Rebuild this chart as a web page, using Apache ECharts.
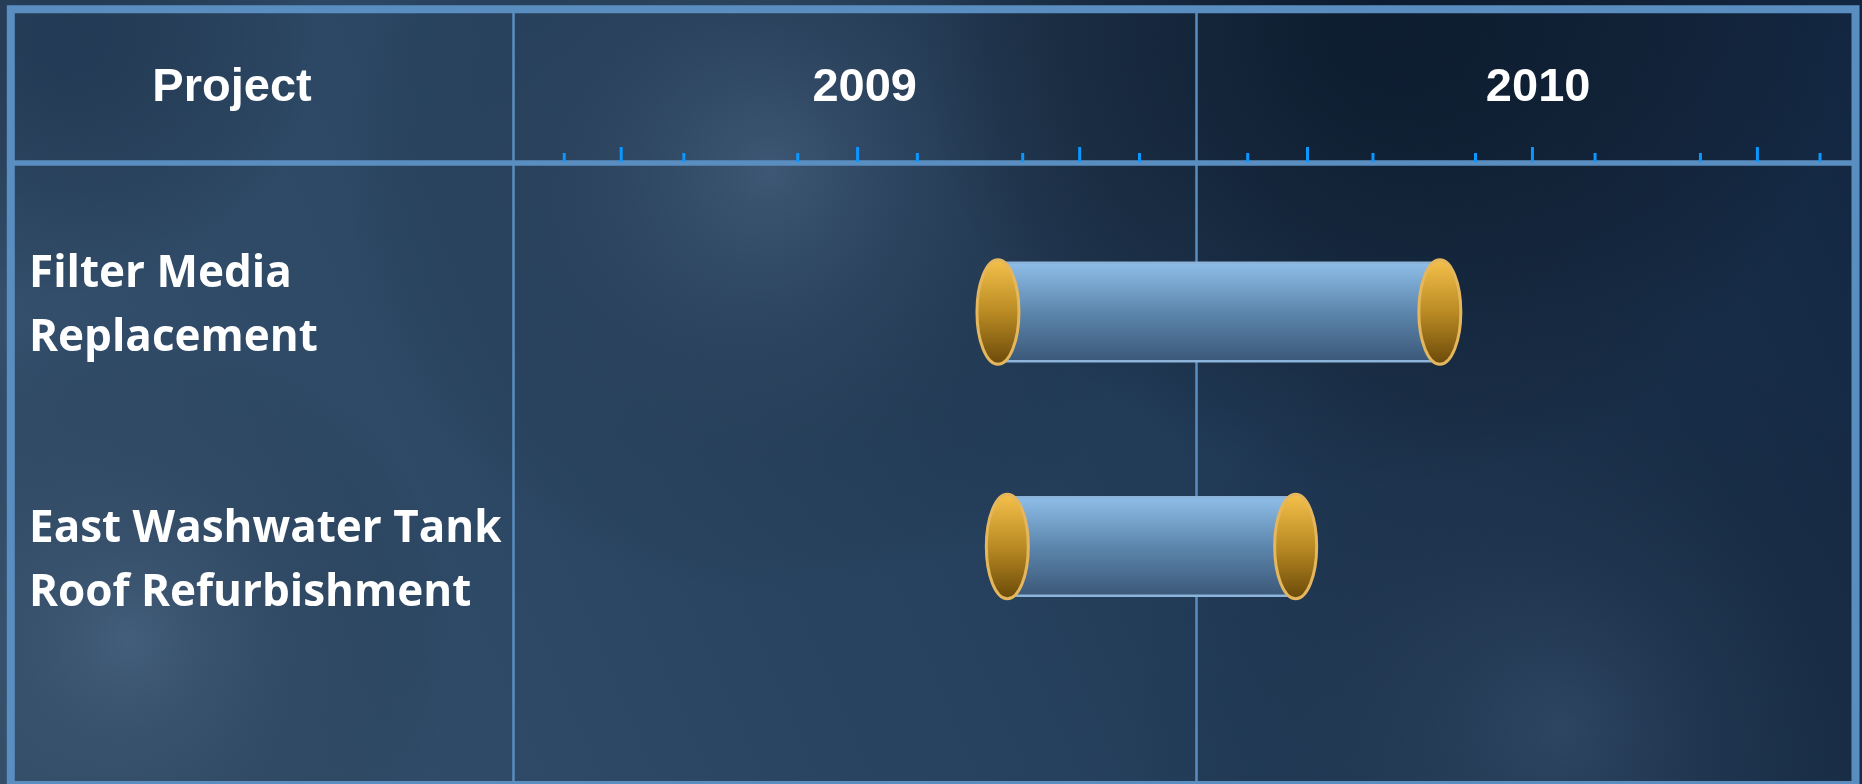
<!DOCTYPE html>
<html>
<head>
<meta charset="utf-8">
<title>Project schedule 2009-2010</title>
<script src="https://cdn.jsdelivr.net/npm/echarts@6/dist/echarts.min.js"></script>
<style>
html, body { margin: 0; padding: 0; background: #1d3553; }
#chart { width: 1862px; height: 784px; }
</style>
</head>
<body>
<div id="chart"></div>
<script>
// rows of the schedule
var projects = ['Filter Media\nReplacement', 'East Washwater Tank\nRoof Refurbishment'];
var startDates = ['2009-09-17', '2009-09-22'];
var endDates = ['2010-05-11', '2010-02-23'];

// time axis
var years = ['2009', '2010'];
var axisStart = '2009-01-01';
var axisEnd = '2010-12-19';

// small header ticks, months after axisStart (1 = long tick)
var tickMonths = [0.9, 1.9, 3.0, 5.0, 6.05, 7.1, 8.95, 9.95, 11.0, 12.9, 13.95, 15.1, 16.9, 17.9, 19.0, 20.85, 21.85, 22.95];
var tickLong = [0, 1, 0, 0, 1, 0, 0, 1, 0, 0, 1, 0, 0, 1, 0, 0, 1, 0];

var LINE = '#5a8ec0';
var myChart = echarts.init(document.getElementById('chart'));

function toYear(s) {
    var t = Date.parse(s + 'T00:00:00Z');
    var y = new Date(t).getUTCFullYear();
    var y0 = Date.UTC(y, 0, 1), y1 = Date.UTC(y + 1, 0, 1);
    return y + (t - y0) / (y1 - y0);
}
var yMin = toYear(axisStart);
var yMax = toYear(axisEnd);

function lg(stops) {
    return new echarts.graphic.LinearGradient(0, 0, 0, 1, stops.map(function (c) {
        return { offset: c[0], color: c[1] };
    }));
}
function glow(cx, cy, r, color) {
    return {
        type: 'circle', z: -10, silent: true,
        shape: { cx: cx, cy: cy, r: r },
        style: {
            fill: new echarts.graphic.RadialGradient(0.5, 0.5, 0.5, [
                { offset: 0, color: color },
                { offset: 1, color: 'rgba(0,0,0,0)' }
            ])
        }
    };
}
function gridBox(o) {
    o.outerBoundsMode = 'none';
    o.containLabel = false;
    return o;
}
function hiddenX(grid) {
    return { type: 'value', gridIndex: grid, min: yMin, max: yMax, show: false };
}
function hiddenY(grid) {
    return { type: 'value', gridIndex: grid, min: 0, max: 1, show: false };
}

var yearFont = { color: '#fff', fontFamily: 'Liberation Sans', fontWeight: 'bold', fontSize: 47 };

var option = {
    backgroundColor: new echarts.graphic.LinearGradient(0, 1, 1, 0, [
        { offset: 0, color: '#36526f' },
        { offset: 0.45, color: '#27425f' },
        { offset: 1, color: '#122640' }
    ]),
    graphic: [
        glow(770, 170, 430, 'rgba(95,120,150,0.40)'),
        glow(130, 640, 330, 'rgba(100,125,155,0.32)'),
        glow(1560, 730, 430, 'rgba(85,110,140,0.30)'),
        glow(1380, 30, 460, 'rgba(4,14,28,0.60)'),
        glow(60, 40, 260, 'rgba(10,25,50,0.35)')
    ],
    title: {
        text: 'Project',
        left: 232, top: 88,
        padding: 0,
        textAlign: 'center',
        textVerticalAlign: 'middle',
        textStyle: yearFont
    },
    grid: [
        // outer frame
        gridBox({ left: 10.8, top: 9.2, right: 6.5, bottom: -1, show: true, borderColor: LINE, borderWidth: 8 }),
        // header band (its bottom edge is the header line)
        gridBox({ left: 10.8, top: 9.2, right: 6.5, height: 153.8, show: true, borderColor: LINE, borderWidth: 5.5 }),
        // year columns
        gridBox({ left: 513, top: 9.2, right: 6.5, bottom: -1 }),
        // header timeline (ticks, year labels)
        gridBox({ left: 513, top: 9.2, right: 6.5, height: 153.8 }),
        // bars
        gridBox({ left: 513, top: 194.75, right: 6.5, bottom: 120.25 }),
        // row labels
        gridBox({ left: 513, top: 178.5, right: 6.5, bottom: 95.5 })
    ],
    xAxis: [
        hiddenX(0),
        hiddenX(1),
        {
            type: 'value', gridIndex: 2, min: yMin, max: yMax, interval: 1,
            axisLine: { show: false }, axisTick: { show: false }, axisLabel: { show: false },
            splitLine: { show: true, lineStyle: { color: LINE, width: 2.5 } }
        },
        {
            type: 'value', gridIndex: 3, min: yMin, max: yMax, interval: 0.5,
            position: 'top', offset: -79,
            axisLine: { show: false }, axisTick: { show: false }, splitLine: { show: false },
            axisLabel: {
                margin: 0, verticalAlign: 'middle',
                color: '#fff', fontFamily: 'Liberation Sans', fontWeight: 'bold', fontSize: 47,
                formatter: function (v) {
                    var f = v - Math.floor(v);
                    if (Math.abs(f - 0.5) > 1e-6) return '';
                    var i = Math.floor(v) - Math.floor(yMin);
                    if (!years[i]) return '';
                    return '{y' + i + '|' + years[i] + '}';
                },
                rich: {
                    y0: Object.assign({ padding: [0, 0, 0, 20] }, yearFont),
                    y1: Object.assign({}, yearFont)
                }
            }
        },
        hiddenX(4),
        hiddenX(5)
    ],
    yAxis: [
        hiddenY(0),
        hiddenY(1),
        hiddenY(2),
        hiddenY(3),
        {
            type: 'category', gridIndex: 4, inverse: true, data: projects, show: false
        },
        {
            type: 'category', gridIndex: 5, inverse: true, data: projects,
            axisLine: { show: false }, axisTick: { show: false }, splitLine: { show: false },
            axisLabel: {
                align: 'left', margin: 484,
                color: '#fff', fontFamily: 'Open Sans', fontWeight: 'bold', fontSize: 44, lineHeight: 64
            }
        }
    ],
    series: [
        {
            name: 'ticks', type: 'custom', xAxisIndex: 3, yAxisIndex: 3, silent: true, clip: false,
            data: tickMonths.map(function (m, i) { return [yMin + m / 12, tickLong[i]]; }),
            renderItem: function (params, api) {
                var p = api.coord([api.value(0), 0]);
                var len = api.value(1) ? 15 : 9;
                return {
                    type: 'rect',
                    shape: { x: p[0] - 1.5, y: p[1] - 1 - len, width: 3, height: len },
                    style: { fill: '#0a97ff' }
                };
            }
        },
        {
            name: 'projects', type: 'custom', xAxisIndex: 4, yAxisIndex: 4, clip: false,
            encode: { x: [0, 1], y: 2 },
            data: projects.map(function (p, i) {
                return [toYear(startDates[i]), toYear(endDates[i]), i];
            }),
            renderItem: function (params, api) {
                var row = api.value(2);
                var a = api.coord([api.value(0), row]);
                var b = api.coord([api.value(1), row]);
                var h = api.size([0, 1])[1] * 0.42;
                var cap = {
                    fill: lg([[0, '#f6c24c'], [0.5, '#ba8b24'], [1, '#694808']]),
                    stroke: '#e4b75e', lineWidth: 3
                };
                return {
                    type: 'group',
                    children: [
                        {
                            type: 'rect',
                            shape: { x: a[0], y: a[1] - h / 2, width: b[0] - a[0], height: h },
                            style: {
                                fill: lg([[0, '#8fbfe9'], [0.5, '#5d86ad'], [1, '#3a5777']]),
                                stroke: '#8cb4da', lineWidth: 2.5
                            }
                        },
                        { type: 'ellipse', shape: { cx: a[0], cy: a[1], rx: 21, ry: h / 2 + 3 }, style: cap },
                        { type: 'ellipse', shape: { cx: b[0], cy: b[1], rx: 21, ry: h / 2 + 3 }, style: cap }
                    ]
                };
            }
        }
    ]
};

if (option && typeof option === 'object') {
    myChart.setOption(option, true);
}
</script>
</body>
</html>
